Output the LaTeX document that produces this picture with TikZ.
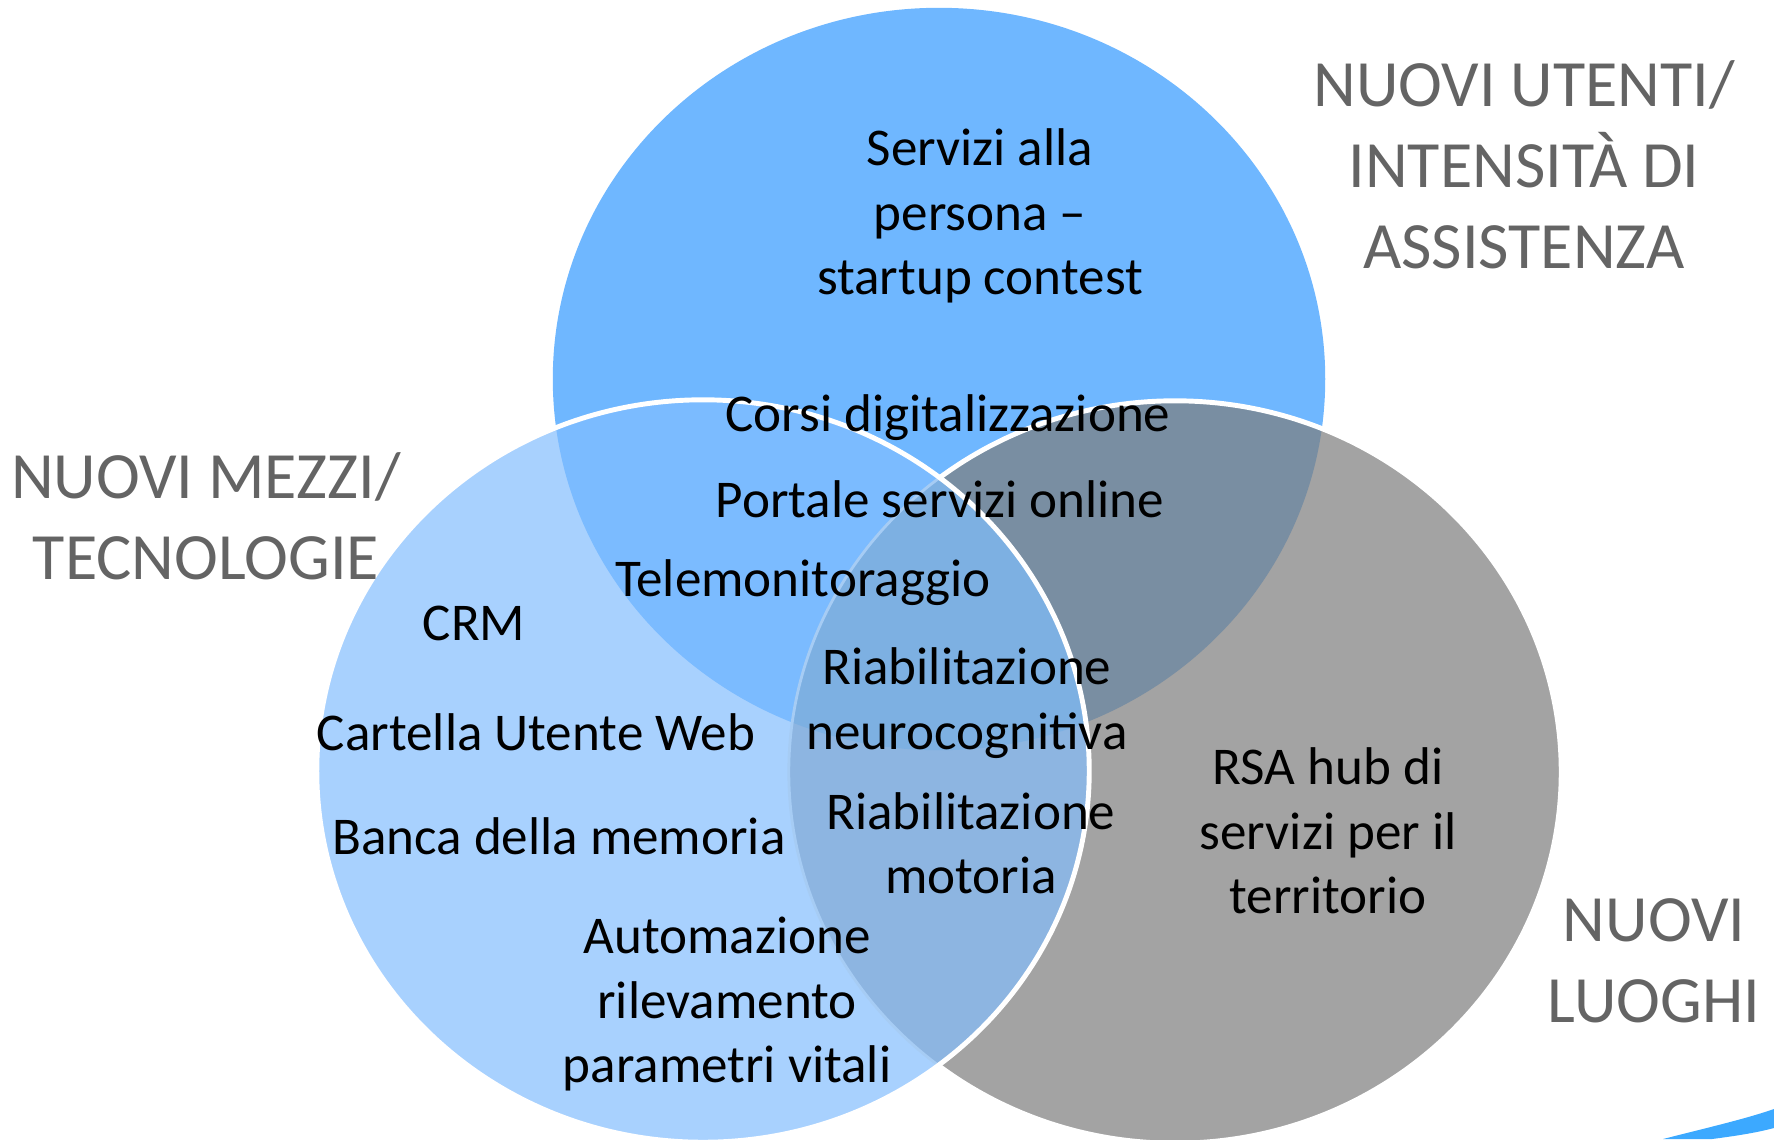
\documentclass[tikz,border=0pt]{standalone}
\usepackage{fontspec}
\setmainfont{Carlito}
\definecolor{colT}{HTML}{6FB7FF}
\definecolor{colL}{HTML}{A8D1FE}
\definecolor{colTL}{HTML}{7BBBFF}
\definecolor{colG}{HTML}{A3A3A3}
\definecolor{colTR}{HTML}{798EA2}
\definecolor{colLR}{HTML}{8DB5E1}
\definecolor{colTLR}{HTML}{7DB0E2}
\definecolor{faint}{HTML}{A6CCF4}
\definecolor{catgray}{HTML}{646464}
\definecolor{swooshblue}{HTML}{3CA9FF}
\newcommand\ellT{(939,379) ellipse [x radius=3.86cm, y radius=3.71cm]}
\newcommand\ellL{(703,771) ellipse [x radius=3.86cm, y radius=3.71cm]}
\newcommand\ellR{(1175,772) ellipse [x radius=3.86cm, y radius=3.71cm]}
\tikzset{
  inner/.style={font=\fontsize{15.1}{18.3}\selectfont, align=center, text=black, inner sep=0pt},
  cat/.style={font=\fontsize{18.8}{23}\selectfont, align=center, text=catgray, inner sep=0pt},
  outline/.style={draw=white, line width=1.4pt},
}
\begin{document}
\begin{tikzpicture}[x=0.01cm, y=-0.01cm]
\useasboundingbox (0,0) rectangle (1774,1139);
\begin{scope}
\clip (0,0) rectangle (1774,1139);
% top circle
\fill[colT] \ellT;
% right circle
\fill[colG] \ellR;
\begin{scope}
  \clip \ellT;
  \fill[colTR] \ellR;
\end{scope}
\draw[outline] \ellR;
% left circle
\fill[colL] \ellL;
\begin{scope}
  \clip \ellL;
  \fill[colTL] \ellT;
  \fill[colLR] \ellR;
  \begin{scope}
    \clip \ellT;
    \fill[colTLR] \ellR;
  \end{scope}
  \draw[faint, line width=0.8pt] \ellR;
\end{scope}
\draw[outline] \ellL;
% swoosh
\fill[swooshblue] (1663,1139) .. controls (1710,1127) and (1745,1119) .. (1774,1109)
  -- (1774,1128) .. controls (1755,1133) and (1735,1136) .. (1712,1139) -- cycle;
\end{scope}

% category labels
\node[cat] (utenti) at (1524,165) {NUOVI UTENTI/\\INTENSITÀ DI\\ASSISTENZA};
\node[cat] (mezzi) at (206,516) {NUOVI MEZZI/\\TECNOLOGIE};
\node[cat] (luoghi) at (1654,961) {NUOVI\\LUOGHI};

% inner texts
\node[inner] (servizi) at (980,216) {Servizi alla\\persona –\\startup contest};
\node[inner] (corsi) at (948,418) {Corsi digitalizzazione};
\node[inner] (portale) at (940,499) {Portale servizi online};
\node[inner] (telem) at (803,583) {Telemonitoraggio};
\node[inner] (crm) at (474,623) {CRM};
\node[inner] (neuro) at (967,703) {Riabilitazione\\neurocognitiva};
\node[inner] (cartella) at (536,732) {Cartella Utente Web};
\node[inner] (rsa) at (1328,831) {RSA hub di\\servizi per il\\territorio};
\node[inner] (banca) at (559,836) {Banca della memoria};
\node[inner] (motoria) at (971,843) {Riabilitazione\\motoria};
\node[inner] (autom) at (727,1004) {Automazione\\rilevamento\\parametri vitali};
\end{tikzpicture}
\end{document}
